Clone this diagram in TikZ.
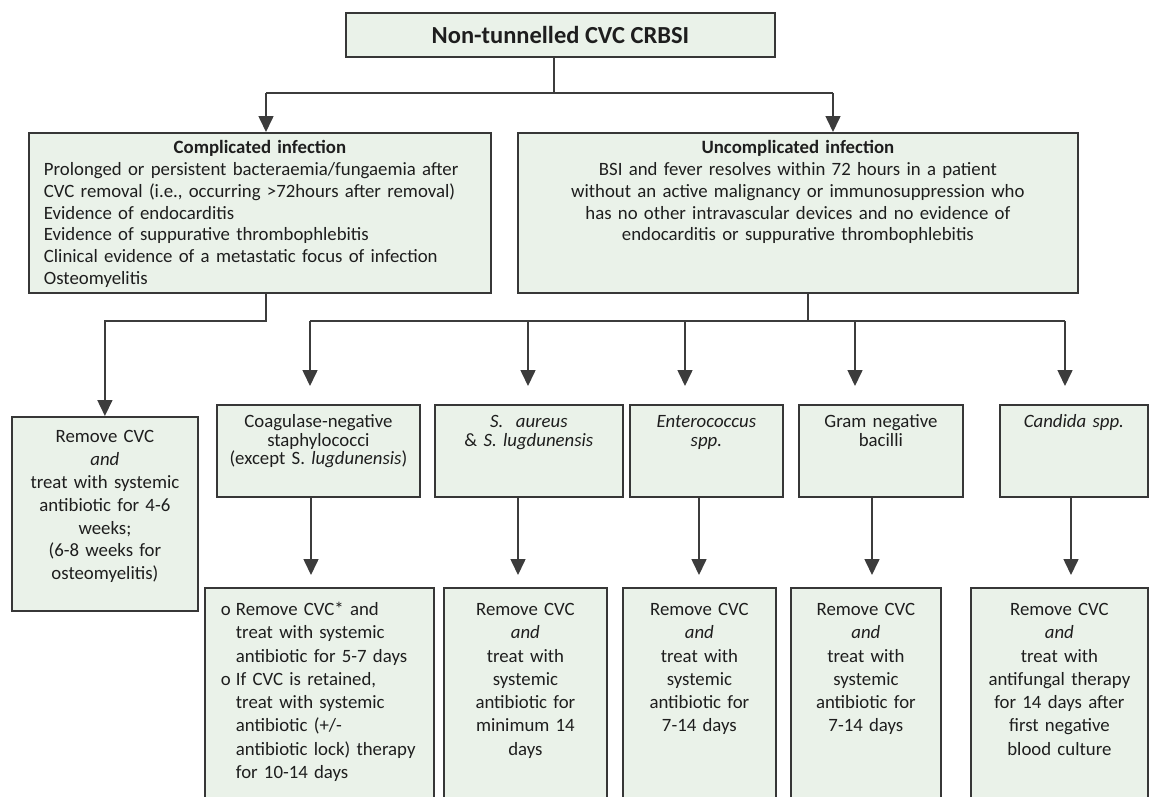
\documentclass[tikz,border=0pt]{standalone}
\usepackage{fontspec}
\setmainfont{Carlito}
\usetikzlibrary{arrows.meta}
\definecolor{boxfill}{RGB}{234,242,233}
\definecolor{boxline}{RGB}{55,55,55}
\definecolor{linecol}{RGB}{60,60,60}
\definecolor{inkcol}{RGB}{30,30,30}
\newcommand{\bodyfont}[1]{\fontsize{18.8}{#1}\selectfont}

\begin{document}
\begin{tikzpicture}[x=1pt,y=-1pt,
  box/.style={draw=boxline,line width=1.8pt,fill=boxfill,inner sep=0pt,anchor=north west,text=inkcol},
  line/.style={draw=linecol,line width=1.6pt},
  arr/.style={line,-{Triangle[width=15pt,length=16pt]}}]
  \useasboundingbox (0,0) rectangle (1149,796);
  \clip (0,0) rectangle (1149,796);

  % top
  \node[box,minimum width=429pt,minimum height=44pt,font=\bfseries\fontsize{24.5}{28}\selectfont] (top) at (345,12) {Non-tunnelled CVC CRBSI};

  % second row
  \node[box,minimum width=462pt,text width=432pt,align=left,text height=21pt,text depth=139pt,font=\bodyfont{21.7}] (comp) at (28,132)
    {\makebox[432pt]{\bfseries Complicated infection}\\
     Prolonged or persistent bacteraemia/fungaemia after\\
     CVC removal (i.e., occurring >72hours after removal)\\
     Evidence of endocarditis\\
     Evidence of suppurative thrombophlebitis\\
     Clinical evidence of a metastatic focus of infection\\
     Osteomyelitis};
  \node[box,minimum width=560pt,text width=540pt,align=center,text height=21pt,text depth=139pt,font=\bodyfont{21.7}] (uncomp) at (517,132)
    {\textbf{Uncomplicated infection}\\
     BSI and fever resolves within 72 hours in a patient\\
     without an active malignancy or immunosuppression who\\
     has no other intravascular devices and no evidence of\\
     endocarditis or suppurative thrombophlebitis};

  % third row
  \node[box,minimum width=186pt,text width=176pt,align=center,text height=26pt,text depth=168pt,font=\bodyfont{22.8}] (remove) at (11,416)
    {Remove CVC\\ \textit{and}\\ treat with systemic\\ antibiotic for 4-6\\ weeks;\\ (6-8 weeks for\\ osteomyelitis)};
  \node[box,minimum width=203pt,text width=195pt,align=center,text height=23pt,text depth=69pt,font=\bodyfont{18.5}] (coag) at (216,404)
    {Coagulase-negative\\ staphylococci\\ (except S. \textit{lugdunensis})};
  \node[box,minimum width=188pt,text width=180pt,align=center,text height=23pt,text depth=69pt,font=\bodyfont{18.5}] (sa) at (434,404)
    {\textit{S.\ \ aureus}\\ \& \textit{S. lugdunensis}};
  \node[box,minimum width=153pt,text width=145pt,align=center,text height=23pt,text depth=69pt,font=\bodyfont{18.5}] (ent) at (629,404)
    {\textit{Enterococcus}\\ \textit{spp.}};
  \node[box,minimum width=164pt,text width=156pt,align=center,text height=23pt,text depth=69pt,font=\bodyfont{18.5}] (gram) at (798,404)
    {Gram negative\\ bacilli};
  \node[box,minimum width=148pt,text width=140pt,align=center,text height=23pt,text depth=69pt,font=\bodyfont{18.5}] (cand) at (999,404)
    {\textit{Candida spp.}};

  % bottom row
  \node[box,minimum width=229pt,text width=197pt,align=left,text height=27.5pt,text depth=200pt,font=\bodyfont{23.3}] (coagtx) at (204,587)
    {\makebox[15pt][l]{o}Remove CVC* and\\
     \hspace*{15pt}treat with systemic\\
     \hspace*{15pt}antibiotic for 5-7 days\\
     \makebox[15pt][l]{o}If CVC is retained,\\
     \hspace*{15pt}treat with systemic\\
     \hspace*{15pt}antibiotic (+/-\\
     \hspace*{15pt}antibiotic lock) therapy\\
     \hspace*{15pt}for 10-14 days};
  \node[box,minimum width=163pt,text width=150pt,align=center,text height=27.5pt,text depth=200pt,font=\bodyfont{23.3}] (satx) at (443,587)
    {Remove CVC\\ \textit{and}\\ treat with\\ systemic\\ antibiotic for\\ minimum 14\\ days};
  \node[box,minimum width=153pt,text width=145pt,align=center,text height=27.5pt,text depth=200pt,font=\bodyfont{23.3}] (enttx) at (622,587)
    {Remove CVC\\ \textit{and}\\ treat with\\ systemic\\ antibiotic for\\ 7-14 days};
  \node[box,minimum width=150pt,text width=142pt,align=center,text height=27.5pt,text depth=200pt,font=\bodyfont{23.3}] (gramtx) at (790,587)
    {Remove CVC\\ \textit{and}\\ treat with\\ systemic\\ antibiotic for\\ 7-14 days};
  \node[box,minimum width=177pt,text width=169pt,align=center,text height=27.5pt,text depth=200pt,font=\bodyfont{23.3}] (candtx) at (970,587)
    {Remove CVC\\ \textit{and}\\ treat with\\ antifungal therapy\\ for 14 days after\\ first negative\\ blood culture};

  % joints
  \coordinate (j0) at (554,93);
  \coordinate (jl) at (266,93);
  \coordinate (jr) at (833,93);
  \coordinate (kl) at (266,321);
  \coordinate (m0) at (808,321);
  \coordinate (b1) at (310,321);
  \coordinate (b2) at (528,321);
  \coordinate (b3) at (685,321);
  \coordinate (b4) at (855,321);
  \coordinate (b5) at (1065,321);

  \draw[line] (top.south -| j0) -- (j0);
  \draw[line] (jl) -- (jr);
  \draw[arr] (jl) -- (jl |- comp.north);
  \draw[arr] (jr) -- (jr |- uncomp.north);

  \draw[arr] (comp.south -| kl) -- (kl) -| (remove.north);
  \draw[line] (uncomp.south -| m0) -- (m0);
  \draw[line] (b1) -- (b5);
  \foreach \n/\s in {b1/coag,b2/sa,b3/ent,b4/gram,b5/cand}
    \draw[arr,shorten >=18pt] (\n) -- (\n |- \s.north);
  \foreach \a/\b/\x in {coag/coagtx/311,sa/satx/518,ent/enttx/699,gram/gramtx/872,cand/candtx/1071}
    \draw[arr,shorten >=12pt] (\a.south -| \x,0) -- (\b.north -| \x,0);
\end{tikzpicture}
\end{document}
